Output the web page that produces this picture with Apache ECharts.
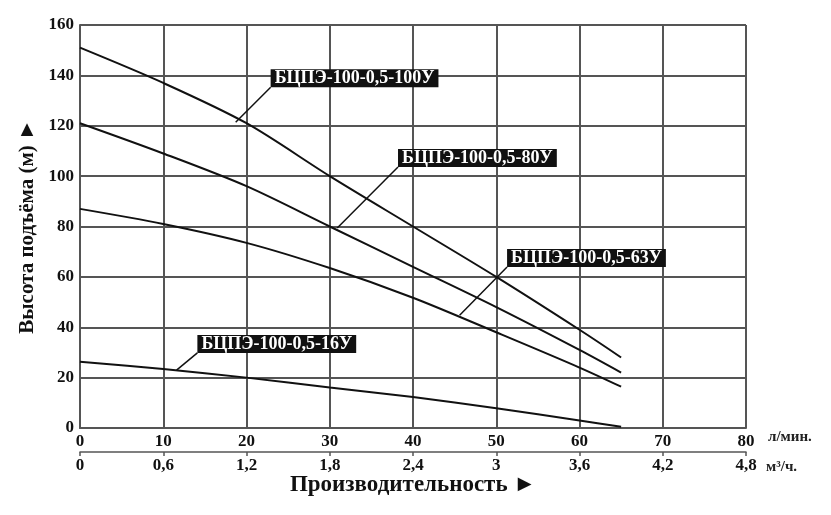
<!DOCTYPE html>
<html style="height: 100%">
<head>
<meta charset="utf-8">
<script src="https://cdn.jsdelivr.net/npm/echarts@6/dist/echarts.min.js"></script>
</head>
<body style="height: 100%; margin: 0; background: #fff">
<div id="container" style="width: 831px; height: 515px"></div>
<script type="text/javascript">
// ------ данные ------
var flowLmin = [0, 10, 20, 30, 40, 50, 60, 65];
var head100 = [151, 137, 121, 100, 80, 60, 39, 28];
var head80  = [121, 109, 96, 80, 64, 48, 31, 22];
var head63  = [87, 81, 73.5, 63.5, 51.7, 38, 24, 16.4];
var head16  = [26.3, 23.4, 20, 16.1, 12.3, 7.8, 3, 0.5];
var names = ['БЦПЭ-100-0,5-100У', 'БЦПЭ-100-0,5-80У', 'БЦПЭ-100-0,5-63У', 'БЦПЭ-100-0,5-16У'];
// точка на кривой и левый нижний угол подписи
var leaderFrom = [[18.7, 121.4], [30.9, 79.4], [45.6, 44.8], [11.6, 23]];
var leaderTo   = [[22.9, 135.3], [38.2, 103.6], [51.3, 63.9], [14.1, 29.8]];
// ------ конец данных ------

var FONT = '"Liberation Serif", "DejaVu Serif", serif';
var myChart = echarts.init(document.getElementById('container'));

function pairs(xs, ys) {
	var arr = [];
	for (var i = 0; i < xs.length; i++) arr.push([xs[i], ys[i]]);
	return arr;
}

function curve(name, ys) {
	return {
		name: name,
		type: 'line',
		smooth: 0.3,
		showSymbol: false,
		silent: true,
		lineStyle: { color: '#111', width: 2 },
		data: pairs(flowLmin, ys)
	};
}

var leaderLines = [];
var labelPoints = [];
for (var i = 0; i < names.length; i++) {
	leaderLines.push([{ coord: leaderFrom[i] }, { coord: leaderTo[i] }]);
	labelPoints.push({ value: leaderTo[i], name: names[i] });
}

var option = {
	animation: false,
	grid: { left: 80, right: 85, top: 25, bottom: 87 },
	xAxis: [{
		type: 'value', min: 0, max: 80, interval: 10,
		name: 'л/мин.', nameLocation: 'end', nameGap: 22,
		nameTextStyle: { fontFamily: FONT, fontWeight: 'bold', fontSize: 15, color: '#222', verticalAlign: 'top', lineHeight: 18 },
		axisLine: { lineStyle: { color: '#555', width: 2 } },
		axisTick: { show: false },
		axisLabel: { fontFamily: FONT, fontWeight: 'bold', fontSize: 17, color: '#111', margin: 5 },
		splitLine: { show: true, lineStyle: { color: '#555', width: 2 } }
	}, {
		type: 'value', min: 0, max: 4.8, interval: 0.6,
		position: 'bottom', offset: 24,
		name: 'м³/ч.', nameLocation: 'end', nameGap: 20,
		nameTextStyle: { fontFamily: FONT, fontWeight: 'bold', fontSize: 15, color: '#222', verticalAlign: 'top', lineHeight: 30 },
		axisLine: { show: true, lineStyle: { color: '#555', width: 1.5 } },
		axisTick: { show: true, length: 4, inside: false, lineStyle: { color: '#555', width: 1.5 } },
		axisLabel: {
			fontFamily: FONT, fontWeight: 'bold', fontSize: 17, color: '#111', margin: 5,
			formatter: function (v) { return String(+v.toFixed(1)).replace('.', ','); }
		},
		splitLine: { show: false }
	}, {
		type: 'value', min: 0, max: 80,
		position: 'bottom', offset: 24,
		name: 'Производительность ►', nameLocation: 'middle', nameGap: 22,
		nameTextStyle: { fontFamily: FONT, fontWeight: 'bold', fontSize: 23, color: '#111' },
		axisLine: { show: false }, axisTick: { show: false }, axisLabel: { show: false },
		splitLine: { show: false }
	}],
	yAxis: {
		type: 'value', min: 0, max: 160, interval: 20,
		name: 'Высота подъёма (м) ►', nameLocation: 'middle', nameGap: 42,
		nameTextStyle: { fontFamily: FONT, fontWeight: 'bold', fontSize: 21, color: '#111' },
		axisLine: { show: true, lineStyle: { color: '#555', width: 2 } },
		axisTick: { show: false },
		axisLabel: { fontFamily: FONT, fontWeight: 'bold', fontSize: 17, color: '#111', margin: 6 },
		splitLine: { show: true, lineStyle: { color: '#555', width: 2 } }
	},
	series: [
		curve(names[0], head100),
		curve(names[1], head80),
		curve(names[2], head63),
		curve(names[3], head16),
		{
			name: 'leaders',
			type: 'scatter',
			symbolSize: 0,
			silent: true,
			itemStyle: { opacity: 1 },
			data: labelPoints,
			label: {
				show: true,
				position: [0, 0],
				align: 'left',
				verticalAlign: 'bottom',
				formatter: '{b}',
				fontFamily: FONT, fontWeight: 'bold', fontSize: 18,
				color: '#fff', backgroundColor: '#111', opacity: 1,
				padding: [1, 4, 0, 4], lineHeight: 17
			},
			markLine: {
				silent: true,
				symbol: 'none',
				label: { show: false },
				lineStyle: { color: '#111', width: 1.5, type: 'solid' },
				data: leaderLines
			}
		}
	]
};

myChart.setOption(option);
</script>
</body>
</html>
